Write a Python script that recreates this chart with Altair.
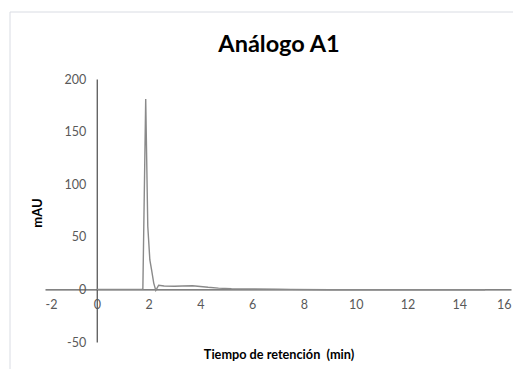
import altair as alt
import pandas as pd

# Chromatogram data (retention time in min, absorbance in mAU)
times = [0, 1.0, 1.75, 1.78, 1.89, 1.97, 2.05, 2.12, 2.2, 2.28, 2.39, 2.6, 3.0,
         3.3, 3.7, 4.0, 4.3, 4.7, 5.2, 6.0, 7.0, 7.5, 9.0, 11.0, 13.0, 15.0]
values = [0, 0, 0, 0.5, 181, 60, 28, 18, 6, -1, 4, 3.2, 3.0,
          3.2, 3.5, 2.8, 2.0, 1.2, 0.6, 0.4, 0.2, 0.0, -0.3, -0.3, -0.4, -0.3]

x_ticks = [-2, 0, 2, 4, 6, 8, 10, 12, 14, 16]
y_ticks = [-50, 0, 50, 100, 150, 200]

title_text = "Análogo A1"
x_title = "Tiempo de retención\u00a0 (min)"
y_title = "mAU"

W, H = 466, 263
XMIN, XMAX = -2, 16
YMIN, YMAX = -50, 200
FONT = "Lato, sans-serif"
AXC = "#595959"

df = pd.DataFrame({"t": times, "v": values})

x_off = -H * (0 - YMIN) / (YMAX - YMIN)   # move x axis up to y=0
y_off = -W * (0 - XMIN) / (XMAX - XMIN)   # move y axis right to x=0

xs = alt.Scale(domain=[XMIN, XMAX], nice=False, zero=False)
ys = alt.Scale(domain=[YMIN, YMAX], nice=False, zero=False)

lbl = "replace(format(datum.value, 'd'), '\u2212', '-')"

line = alt.Chart(df).mark_line(color="#8a8a8a", strokeWidth=1.4, clip=True).encode(
    x=alt.X("t:Q", scale=xs,
            axis=alt.Axis(values=x_ticks, title=None, offset=x_off, grid=False,
                          ticks=False, domainColor=AXC, domainWidth=1.3,
                          labelColor=AXC, labelFont=FONT, labelFontSize=12.5,
                          labelPadding=9, labelExpr=lbl)),
    y=alt.Y("v:Q", scale=ys,
            axis=alt.Axis(values=y_ticks, title=None, offset=y_off, grid=False,
                          ticks=False, domainColor=AXC, domainWidth=1.3,
                          labelColor=AXC, labelFont=FONT, labelFontSize=12.5,
                          labelPadding=11, labelExpr=lbl)),
)

one = pd.DataFrame({"a": [0]})

frame = alt.Chart(one).mark_rect(fillOpacity=0, stroke="#d9dce3", strokeWidth=1).encode(
    x=alt.value(-35), x2=alt.value(W + 60), y=alt.value(-67), y2=alt.value(H + 80)
)

title = alt.Chart(one).mark_text(font=FONT, fontSize=23.5, fontWeight="bold",
                                 color="#000000", baseline="middle").encode(
    x=alt.value(234), y=alt.value(-34), text=alt.value(title_text)
)
xt = alt.Chart(one).mark_text(font=FONT, fontSize=12.7, fontWeight="bold",
                              color="#000000", baseline="middle").encode(
    x=alt.value(234), y=alt.value(276), text=alt.value(x_title)
)
yt = alt.Chart(one).mark_text(font=FONT, fontSize=13, fontWeight="bold",
                              color="#000000", baseline="middle", angle=270).encode(
    x=alt.value(-7), y=alt.value(134), text=alt.value(y_title)
)

chart = alt.layer(frame, line, title, xt, yt).properties(
    width=W, height=H,
    autosize=alt.AutoSizeParams(type="none"),
    padding={"left": 37, "top": 71, "right": 2, "bottom": 27},
).configure_view(stroke=None)

chart.save("out.html", embed_options={"renderer": "svg", "actions": False})
